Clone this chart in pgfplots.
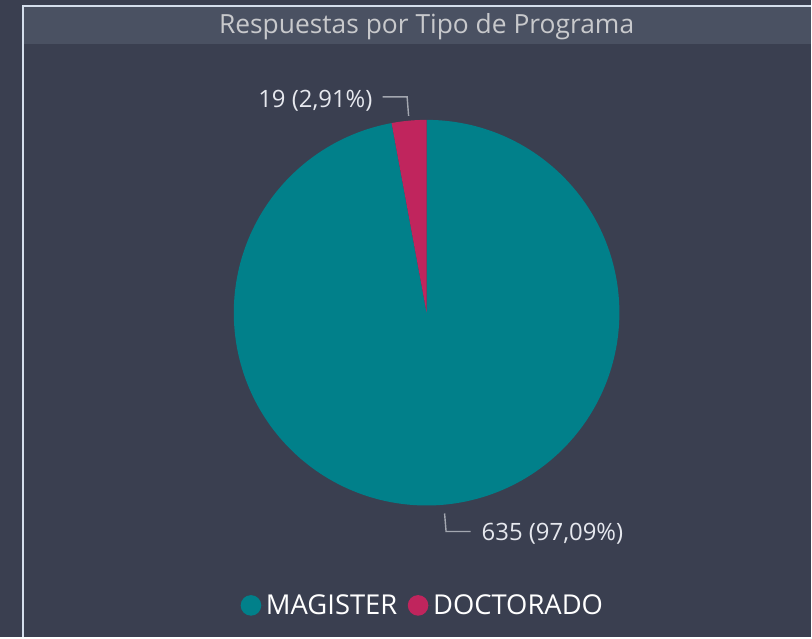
\documentclass[border=0pt]{standalone}
\usepackage{pgfplots}
\pgfplotsset{compat=1.18}
\usepackage{fontspec}
\setmainfont{Open Sans}
\definecolor{bg}{HTML}{3A3F50}
\definecolor{band}{HTML}{4A5162}
\definecolor{frame}{HTML}{D4DEEC}
\definecolor{tealc}{HTML}{01808A}
\definecolor{crims}{HTML}{C0255D}
\definecolor{titlec}{HTML}{C8C9CC}
\definecolor{labc}{HTML}{E6E8EE}
\definecolor{leader}{HTML}{A3A7B0}
\begin{document}
\begin{tikzpicture}[x=1bp,y=1bp]
% background, frame and title band (pixel units, y measured from bottom)
\fill[bg] (0,0) rectangle (812,638);
\fill[band] (23.5,638-44) rectangle (812,638-7.5);
\draw[frame, line width=1.6bp] (22.8,0) -- (22.8,638-6.3) -- (812,638-6.3);
\pgfmathsetmacro{\va}{635}
\pgfmathsetmacro{\vb}{19}
\pgfmathsetmacro{\angb}{360*\vb/(\va+\vb)}
\begin{axis}[
  at={(0,0)}, anchor=south west,
  width=812bp, height=638bp, scale only axis,
  xmin=0, xmax=812, ymin=0, ymax=638,
  hide axis, clip=false,
  legend style={draw=none, fill=none, text=white, font=\fontsize{27.5}{30}\selectfont,
    at={(axis cs:423,32)}, anchor=center, legend columns=-1,
    /tikz/every even column/.append style={column sep=9bp},
    nodes={inner sep=1.5bp}},
  legend image code/.code={\path (-10.3bp,0bp) -- (13.5bp,0bp); \fill[#1] (0bp,0bp) circle (10.3bp);},
]
% pie slices
\addplot[draw=none, fill=tealc, domain=90+\angb:450, samples=240]
  ({427+193*cos(x)},{325+193*sin(x)}) -- (427,325) -- cycle;
\addplot[draw=none, fill=crims, domain=90:90+\angb, samples=20]
  ({427+193*cos(x)},{325+193*sin(x)}) -- (427,325) -- cycle;
\addlegendimage{tealc}
\addlegendentry{MAGISTER}
\addlegendimage{crims}
\addlegendentry{DOCTORADO}
% title
\node[text=titlec, font=\fontsize{26.5}{29}\selectfont, anchor=base] at (axis cs:427,638-34) {Respuestas por Tipo de Programa};
% data labels with leader lines
\draw[leader, line width=1.4bp] (axis cs:383,638-97) -- (axis cs:407.5,638-97) -- (axis cs:409,638-116);
\node[text=labc, font=\fontsize{24}{27}\selectfont, anchor=base east, inner sep=0pt] at (axis cs:373,638-108) {19 (2,91\%)};
\draw[leader, line width=1.4bp] (axis cs:445,638-514) -- (axis cs:446.5,638-532) -- (axis cs:471,638-532);
\node[text=labc, font=\fontsize{24}{27}\selectfont, anchor=base west, inner sep=0pt] at (axis cs:482,638-541) {635 (97,09\%)};
\end{axis}
\end{tikzpicture}
\end{document}
